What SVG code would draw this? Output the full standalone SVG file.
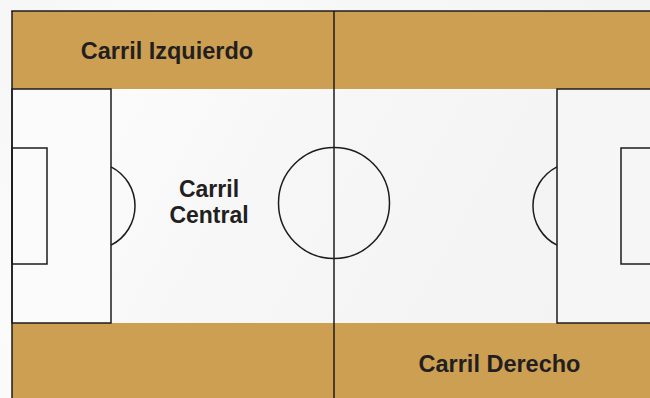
<svg xmlns="http://www.w3.org/2000/svg" width="650" height="398" viewBox="0 0 650 398">
  <defs>
    <linearGradient id="bg" x1="0" y1="0" x2="1" y2="0.35">
      <stop offset="0" stop-color="#f6f6f6"/>
      <stop offset="0.25" stop-color="#fbfbfb"/>
      <stop offset="0.5" stop-color="#f7f7f7"/>
      <stop offset="1" stop-color="#f3f3f3"/>
    </linearGradient>
    <style>
      .band { fill: #cd9f53; }
      .line { fill: none; stroke: #1c1c1c; stroke-width: 1.5; }
      .box { fill: #fbfbfb; stroke: #1c1c1c; stroke-width: 1.5; }
      .lbl { font-family: "Liberation Sans", Arial, sans-serif; font-weight: 700; font-size: 23.5px; fill: #231f20; text-anchor: middle; }
    </style>
  </defs>
  <rect id="background" x="0" y="0" width="650" height="398" fill="url(#bg)"/>
  <g id="bands">
    <rect class="band" x="12" y="11" width="644" height="78"/>
    <rect class="band" x="12" y="323" width="644" height="78"/>
  </g>
  <g id="left-penalty-area">
    <rect class="box" x="12" y="89" width="99" height="234"/>
    <rect class="line" x="12" y="148" width="35" height="116"/>
    <path class="line" d="M111,166.8 A44,44 0 0,1 111,245.2"/>
  </g>
  <g id="right-penalty-area">
    <rect class="box" x="557" y="89" width="99" height="234" fill="#f6f6f6" style="fill:#f6f6f6"/>
    <rect class="line" x="621" y="148" width="35" height="116"/>
    <path class="line" d="M557,166.8 A44,44 0 0,0 557,245.2"/>
  </g>
  <g id="center">
    <circle class="line" cx="334" cy="203" r="55.5"/>
    <line class="line" x1="334" y1="11" x2="334" y2="398"/>
  </g>
  <g id="field-border">
    <line class="line" x1="11.25" y1="11" x2="650" y2="11"/>
    <line class="line" x1="12" y1="11" x2="12" y2="398"/>
  </g>
  <g id="carril-izquierdo">
    <text class="lbl" x="167" y="58.5">Carril Izquierdo</text>
  </g>
  <g id="carril-central">
    <text class="lbl" x="209" y="197" style="font-size:23px">Carril</text>
    <text class="lbl" x="209" y="223" style="font-size:23px">Central</text>
  </g>
  <g id="carril-derecho">
    <text class="lbl" x="499.5" y="372">Carril Derecho</text>
  </g>
</svg>
